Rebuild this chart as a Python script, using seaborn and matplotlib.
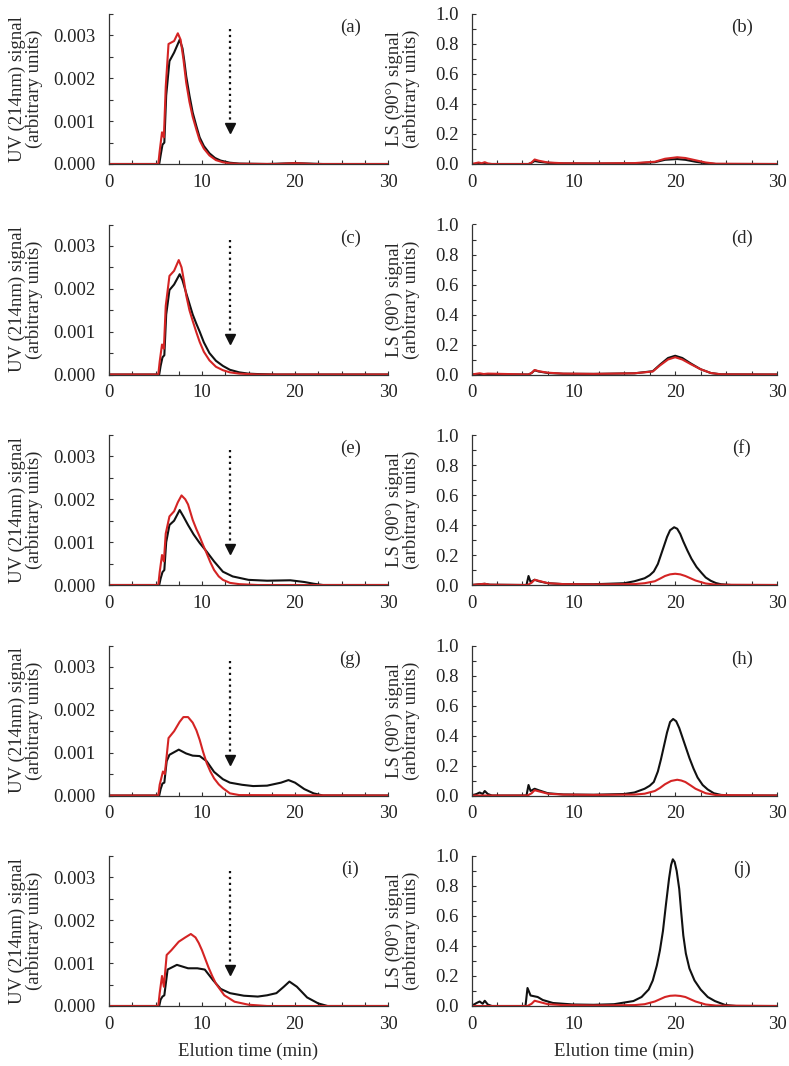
import numpy as np
import matplotlib
matplotlib.use("Agg")
import matplotlib.pyplot as plt
from matplotlib.ticker import MultipleLocator, FormatStrFormatter
import seaborn as sns

# ------------------------------------------------------------------
# Data (UV in units of 0.001, LS as is)
# ------------------------------------------------------------------
UV_SCALE = 1e-3

# (a)
a_red_t = [0, 5.3, 5.45, 5.7, 5.9, 6.1, 6.4, 7.0, 7.4, 7.7, 8.0, 8.3, 8.65, 9.0, 9.4, 9.75, 10.2, 10.8,
           11.5, 12.25, 13, 14, 18, 20, 22, 30]
a_red_y = [0, 0, 0.3, 0.74, 0.62, 1.8, 2.8, 2.87, 3.05, 2.9, 2.45, 1.9, 1.45, 1.1, 0.8, 0.55, 0.36, 0.2,
           0.09, 0.04, 0.015, 0.005, 0, 0.02, 0, 0]
a_blk_t = [0, 5.4, 5.55, 5.75, 5.95, 6.15, 6.5, 7.0, 7.6, 7.9, 8.1, 8.3, 8.65, 9.0, 9.4, 9.75, 10.2, 10.8,
           11.4, 12.0, 13, 14, 17, 20, 23, 30]
a_blk_y = [0, 0, 0.2, 0.45, 0.5, 1.6, 2.4, 2.6, 2.9, 2.7, 2.4, 2.05, 1.6, 1.2, 0.88, 0.62, 0.42, 0.25,
           0.14, 0.08, 0.03, 0.01, 0, 0.02, 0, 0]

# (c)
c_red_t = [0, 5.3, 5.45, 5.7, 5.9, 6.1, 6.5, 7.0, 7.5, 7.8, 8.05, 8.3, 8.65, 9.0, 9.4, 9.75, 10.2, 10.8,
           11.5, 12.25, 13, 14, 16, 30]
c_red_y = [0, 0, 0.3, 0.7, 0.6, 1.6, 2.3, 2.42, 2.67, 2.5, 2.2, 1.85, 1.5, 1.25, 0.98, 0.76, 0.53, 0.33,
           0.18, 0.1, 0.05, 0.02, 0, 0]
c_blk_t = [0, 5.4, 5.55, 5.75, 5.95, 6.15, 6.5, 7.0, 7.6, 7.9, 8.3, 8.65, 9.0, 9.4, 9.75, 10.2, 10.8,
           11.5, 12.25, 13, 14, 15, 16, 18, 30]
c_blk_y = [0, 0, 0.2, 0.4, 0.45, 1.4, 1.97, 2.1, 2.34, 2.2, 1.9, 1.65, 1.4, 1.18, 1.0, 0.75, 0.5,
           0.32, 0.2, 0.11, 0.05, 0.02, 0.01, 0, 0]

# (e)
e_red_t = [0, 5.3, 5.45, 5.7, 5.9, 6.1, 6.5, 7.0, 7.4, 7.8, 8.2, 8.5, 9.0, 9.4, 9.75, 10.1, 10.5, 10.9,
           11.3, 11.8, 12.25, 13, 14, 16, 30]
e_red_y = [0, 0, 0.3, 0.7, 0.55, 1.2, 1.6, 1.72, 1.93, 2.09, 2.0, 1.88, 1.52, 1.3, 1.13, 0.94, 0.74, 0.53,
           0.35, 0.2, 0.12, 0.05, 0.02, 0, 0]
e_blk_t = [0, 5.4, 5.55, 5.75, 5.95, 6.15, 6.5, 7.0, 7.6, 8.0, 8.5, 9.1, 9.75, 10.5, 11.3, 12.25, 13.3,
           15, 17, 19.5, 21, 22, 23, 30]
e_blk_y = [0, 0, 0.15, 0.3, 0.35, 1.0, 1.4, 1.5, 1.75, 1.6, 1.4, 1.18, 0.98, 0.78, 0.55, 0.31, 0.2,
           0.12, 0.1, 0.11, 0.07, 0.03, 0, 0]

# (g)
g_red_t = [0, 5.3, 5.45, 5.8, 6.0, 6.4, 7.0, 7.6, 8.0, 8.5, 9.0, 9.4, 9.75, 10.1, 10.5, 10.9, 11.3, 11.8,
           12.25, 13, 14, 30]
g_red_y = [0, 0, 0.25, 0.56, 0.5, 1.34, 1.5, 1.72, 1.83, 1.83, 1.7, 1.52, 1.3, 1.03, 0.76, 0.56, 0.4, 0.26,
           0.17, 0.05, 0.01, 0]
g_blk_t = [0, 5.4, 5.55, 5.75, 5.95, 6.2, 6.5, 7.5, 8.3, 9.0, 9.75, 10.5, 11.3, 12.25, 13, 14.3, 15.5, 17,
           18.5, 19.3, 20, 21, 22, 23, 30]
g_blk_y = [0, 0, 0.15, 0.28, 0.3, 0.8, 0.95, 1.07, 0.98, 0.93, 0.92, 0.8, 0.55, 0.38, 0.3, 0.25, 0.22, 0.23,
           0.3, 0.36, 0.3, 0.15, 0.05, 0, 0]

# (i)
i_red_t = [0, 5.3, 5.45, 5.7, 5.9, 6.2, 6.7, 7.5, 8.2, 8.8, 9.3, 9.65, 10.0, 10.35, 10.7, 11.1, 11.5, 12.4,
           13.5, 15, 17, 30]
i_red_y = [0, 0, 0.3, 0.7, 0.45, 1.19, 1.3, 1.5, 1.6, 1.68, 1.6, 1.47, 1.3, 1.1, 0.9, 0.7, 0.52, 0.25,
           0.1, 0.03, 0, 0]
i_blk_t = [0, 5.4, 5.55, 5.75, 5.95, 6.3, 7.3, 8.5, 9.5, 10.3, 11.2, 12, 13, 14.5, 16, 17, 18, 18.8, 19.4,
           20.2, 21.3, 22.5, 23.5, 30]
i_blk_y = [0, 0, 0.15, 0.22, 0.25, 0.85, 0.96, 0.88, 0.88, 0.85, 0.6, 0.4, 0.3, 0.24, 0.22, 0.25, 0.3, 0.45,
           0.57, 0.45, 0.2, 0.06, 0, 0]

# (b)
b_red_t = [0, 0.7, 1.0, 1.3, 1.6, 2, 5.6, 5.9, 6.2, 6.6, 7.5, 9, 12, 16, 18, 19, 20.2, 21, 22, 23, 24, 30]
b_red_y = [0, 0.01, 0.005, 0.012, 0.004, 0, 0, 0.01, 0.03, 0.022, 0.01, 0.005, 0.004, 0.006, 0.015, 0.035,
           0.045, 0.04, 0.025, 0.01, 0.002, 0]
b_blk_t = [0, 5.6, 5.9, 6.2, 6.6, 7.5, 9, 12, 16, 18, 19, 20.2, 21, 22, 23, 24, 30]
b_blk_y = [0, 0, 0.008, 0.02, 0.015, 0.008, 0.004, 0.003, 0.004, 0.012, 0.028, 0.033, 0.028, 0.015, 0.005, 0, 0]

# (d)
d_red_t = [0, 0.8, 1.2, 1.6, 5.6, 5.9, 6.2, 6.6, 7.5, 9, 12, 16, 17.8, 18.5, 19.3, 20, 20.7, 21.5, 22.5,
           23.5, 24.5, 30]
d_red_y = [0, 0.008, 0.003, 0.006, 0, 0.01, 0.03, 0.022, 0.012, 0.006, 0.004, 0.008, 0.02, 0.06, 0.1, 0.115,
           0.1, 0.07, 0.035, 0.01, 0.001, 0]
d_blk_t = [0, 5.6, 5.9, 6.2, 6.6, 7.5, 9, 12, 16, 17.8, 18.5, 19.3, 20, 20.7, 21.5, 22.5, 23.5, 24.5, 30]
d_blk_y = [0, 0, 0.01, 0.028, 0.02, 0.01, 0.005, 0.004, 0.008, 0.022, 0.065, 0.11, 0.125, 0.11, 0.075, 0.035,
           0.01, 0.001, 0]

# (f)
f_blk_t = [0, 0.8, 1.3, 1.8, 5.4, 5.6, 5.8, 6.2, 6.6, 7.5, 9, 12, 15, 16, 17, 17.5, 17.9, 18.3, 18.6, 18.9,
           19.2, 19.5, 19.9, 20.2, 20.5, 20.8, 21.2, 21.6, 22.1, 22.6, 23.0, 23.5, 24.0, 24.5, 25.5, 30]
f_blk_y = [0, 0.005, 0.008, 0.002, 0, 0.06, 0.02, 0.035, 0.025, 0.012, 0.006, 0.005, 0.012, 0.025, 0.045,
           0.065, 0.09, 0.14, 0.2, 0.26, 0.32, 0.365, 0.385, 0.375, 0.34, 0.29, 0.23, 0.175, 0.12, 0.08, 0.05,
           0.028, 0.013, 0.005, 0, 0]
f_red_t = [0, 0.8, 1.3, 1.8, 5.5, 5.9, 6.2, 6.6, 7.5, 9, 12, 16, 17, 18, 18.5, 19, 19.5, 20, 20.5, 21,
           21.5, 22, 23, 24, 30]
f_red_y = [0, 0.005, 0.008, 0.002, 0, 0.015, 0.035, 0.028, 0.012, 0.006, 0.004, 0.006, 0.012, 0.025, 0.042,
           0.06, 0.071, 0.075, 0.071, 0.06, 0.045, 0.03, 0.01, 0.002, 0]

# (h)
h_blk_t = [0, 0.5, 0.8, 1.1, 1.3, 1.6, 2, 5.4, 5.6, 5.8, 6.2, 6.6, 7.5, 9, 12, 15, 16, 17, 17.5, 17.9,
           18.3, 18.6, 18.9, 19.2, 19.5, 19.8, 20.1, 20.4, 20.7, 21.0, 21.4, 21.8, 22.2, 22.7, 23.2, 23.8,
           24.5, 25.5, 30]
h_blk_y = [0, 0.01, 0.02, 0.01, 0.03, 0.01, 0, 0, 0.07, 0.03, 0.045, 0.035, 0.015, 0.007, 0.005, 0.01, 0.02,
           0.045, 0.065, 0.09, 0.16, 0.24, 0.33, 0.42, 0.49, 0.51, 0.495, 0.45, 0.39, 0.33, 0.25, 0.18, 0.12,
           0.07, 0.04, 0.015, 0.004, 0, 0]
h_red_t = [0, 5.5, 5.9, 6.2, 6.6, 7.5, 9, 12, 16, 17, 18, 18.5, 19, 19.6, 20.2, 20.6, 21, 21.5, 22, 23,
           24, 30]
h_red_y = [0, 0, 0.015, 0.035, 0.028, 0.012, 0.006, 0.004, 0.006, 0.012, 0.03, 0.05, 0.075, 0.097, 0.105,
           0.1, 0.09, 0.068, 0.045, 0.015, 0.003, 0]

# (j)
j_blk_t = [0, 0.5, 0.8, 1.1, 1.3, 1.6, 2, 5.3, 5.5, 5.8, 6.5, 7.0, 8, 10, 12, 14, 15.9, 16.7, 17.4, 17.8,
           18.2, 18.5, 18.8, 19.1, 19.4, 19.6, 19.77, 19.95, 20.15, 20.4, 20.6, 20.8, 21.05, 21.4, 21.9,
           22.5, 23.2, 23.9, 24.9, 26, 30]
j_blk_y = [0, 0.02, 0.03, 0.015, 0.035, 0.01, 0, 0, 0.12, 0.07, 0.06, 0.04, 0.02, 0.01, 0.008, 0.012, 0.033,
           0.06, 0.11, 0.17, 0.27, 0.37, 0.5, 0.68, 0.85, 0.94, 0.978, 0.96, 0.9, 0.78, 0.62, 0.47, 0.35,
           0.25, 0.17, 0.11, 0.06, 0.033, 0.007, 0, 0]
j_red_t = [0, 5.5, 5.9, 6.2, 6.6, 7.5, 9, 12, 16, 17, 18, 18.5, 19, 19.5, 20, 20.5, 21, 21.5, 22, 23,
           24, 30]
j_red_y = [0, 0, 0.015, 0.035, 0.028, 0.012, 0.006, 0.004, 0.006, 0.012, 0.03, 0.045, 0.06, 0.068, 0.07,
           0.067, 0.06, 0.045, 0.03, 0.01, 0.003, 0]

uv_panels = [
    ("(a)", a_blk_t, a_blk_y, a_red_t, a_red_y),
    ("(c)", c_blk_t, c_blk_y, c_red_t, c_red_y),
    ("(e)", e_blk_t, e_blk_y, e_red_t, e_red_y),
    ("(g)", g_blk_t, g_blk_y, g_red_t, g_red_y),
    ("(i)", i_blk_t, i_blk_y, i_red_t, i_red_y),
]
ls_panels = [
    ("(b)", b_blk_t, b_blk_y, b_red_t, b_red_y),
    ("(d)", d_blk_t, d_blk_y, d_red_t, d_red_y),
    ("(f)", f_blk_t, f_blk_y, f_red_t, f_red_y),
    ("(h)", h_blk_t, h_blk_y, h_red_t, h_red_y),
    ("(j)", j_blk_t, j_blk_y, j_red_t, j_red_y),
]

# arrow marking the cut-off time in the UV panels
ARROW_X = 13
ARROW_TOP = 0.00315
ARROW_TIP = 0.00075

BLACK = "#111111"
RED = "#d42424"
FS = 13.5

# ------------------------------------------------------------------
# Figure
# ------------------------------------------------------------------
sns.set_style("ticks")
plt.rcParams["font.family"] = ["Liberation Serif", "DejaVu Serif"]
plt.rcParams["font.size"] = FS

fig = plt.figure(figsize=(7.89, 10.66), dpi=100)
W, H = 789, 1066


def make_axes(x0, x1, row):
    bottom = 164 + 210.5 * row
    return fig.add_axes([x0 / W, 1 - bottom / H, (x1 - x0) / W, 150 / H])


def style_axes(ax, ypad):
    sns.despine(ax=ax)
    for sp in ("left", "bottom"):
        ax.spines[sp].set_color("#333333")
        ax.spines[sp].set_linewidth(0.9)
    ax.set_xlim(0, 30)
    ax.xaxis.set_major_locator(MultipleLocator(10))
    ax.xaxis.set_minor_locator(MultipleLocator(2.5))
    ax.tick_params(which="both", direction="in", length=3, width=0.8, color="#333333",
                   labelsize=FS, labelcolor="#222222")
    ax.tick_params(axis="x", pad=7)
    ax.tick_params(axis="y", pad=ypad)
    ax.set_xlabel("")


for row, (lab, bt, by, rt, ry) in enumerate(uv_panels):
    ax = make_axes(109, 388, row)
    sns.lineplot(x=np.array(bt), y=np.array(by) * UV_SCALE, color=BLACK, linewidth=1.5, ax=ax)
    sns.lineplot(x=np.array(rt), y=np.array(ry) * UV_SCALE, color=RED, linewidth=1.5, ax=ax)
    style_axes(ax, 10)
    ax.set_ylim(0, 0.0035)
    ax.yaxis.set_major_locator(MultipleLocator(0.001))
    ax.yaxis.set_minor_locator(MultipleLocator(0.0005))
    ax.yaxis.set_major_formatter(FormatStrFormatter("%.3f"))
    ax.set_ylabel("UV (214nm) signal\n(arbitrary units)", fontsize=FS, labelpad=7, linespacing=1.0)
    ax.text(0.865, 0.91, lab, transform=ax.transAxes, ha="center", va="center", fontsize=FS)
    # dotted arrow
    ax.plot([ARROW_X, ARROW_X], [ARROW_TOP, ARROW_TIP + 0.0002], color=BLACK, linestyle=":", linewidth=1.6)
    ax.plot([ARROW_X], [ARROW_TIP + 0.00009], marker="v", color=BLACK, markersize=7, linestyle="none")
    if row == 4:
        ax.set_xlabel("Elution time (min)", fontsize=FS, labelpad=7)

for row, (lab, bt, by, rt, ry) in enumerate(ls_panels):
    ax = make_axes(471.5, 777, row)
    sns.lineplot(x=np.array(bt), y=np.array(by), color=BLACK, linewidth=1.5, ax=ax)
    sns.lineplot(x=np.array(rt), y=np.array(ry), color=RED, linewidth=1.5, ax=ax)
    style_axes(ax, 9)
    ax.set_ylim(0, 1.0)
    ax.yaxis.set_major_locator(MultipleLocator(0.2))
    ax.yaxis.set_minor_locator(MultipleLocator(0.1))
    ax.yaxis.set_major_formatter(FormatStrFormatter("%.1f"))
    ax.set_ylabel("LS (90\u00b0) signal\n(arbitrary units)", fontsize=FS, labelpad=11, linespacing=1.0)
    ax.text(0.885, 0.91, lab, transform=ax.transAxes, ha="center", va="center", fontsize=FS)
    if row == 4:
        ax.set_xlabel("Elution time (min)", fontsize=FS, labelpad=7)

fig.savefig("out.png", dpi=100)
